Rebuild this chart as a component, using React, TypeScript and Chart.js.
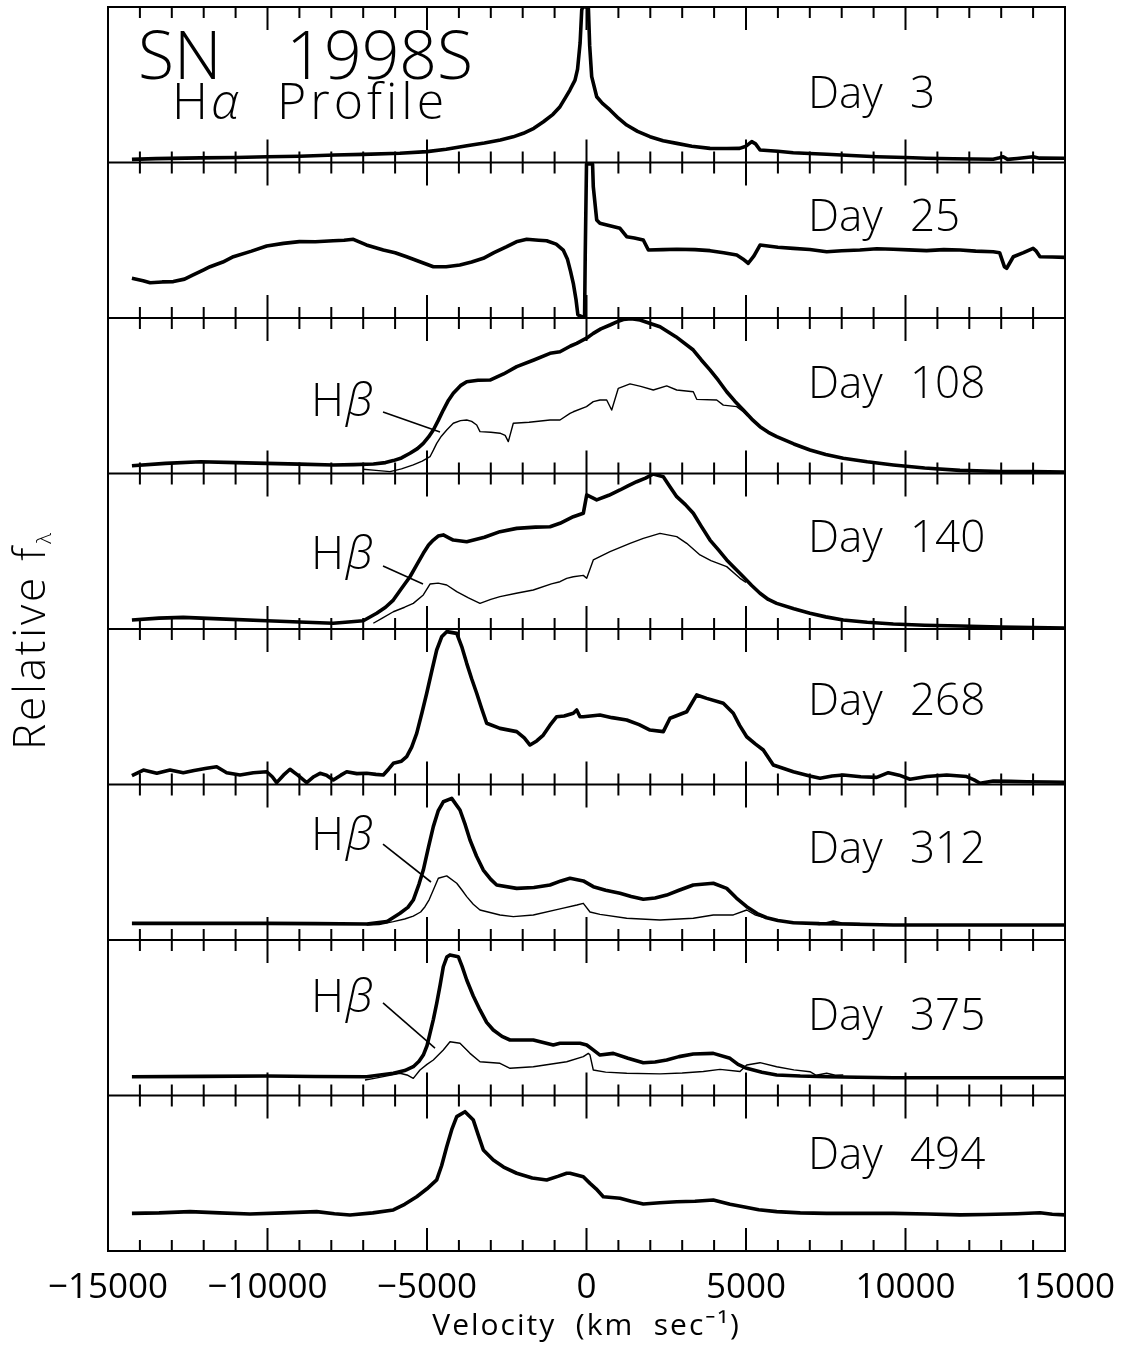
import React, { useEffect, useRef } from 'react';
import { Chart, registerables } from 'chart.js';

Chart.register(...registerables);

// ---------- axis values ----------
const X_MIN = -15000;
const X_MAX = 15000;
const X_MAJOR = 5000;
const X_MINOR = 1000;
const Y_MIN = 0;
const Y_MAX = 1;
const X_TITLE = 'Velocity  (km  sec\u207B\u00B9)';

// ---------- panel labels ----------
const DAYS = ['3', '25', '108', '140', '268', '312', '375', '494'];

// ---------- data: [velocity km/s, relative flux within panel] ----------
const day3Ha: [number, number][] = [
  [-14250, 0.02], [-13500, 0.025], [-12100, 0.03], [-11000, 0.032], [-10000, 0.037], [-9000, 0.04],
  [-7900, 0.048], [-7000, 0.052], [-5850, 0.059], [-5000, 0.07], [-4400, 0.085], [-3750, 0.108],
  [-3200, 0.125], [-2700, 0.145], [-2300, 0.165], [-1980, 0.188], [-1650, 0.22], [-1350, 0.262],
  [-1050, 0.31], [-830, 0.359], [-650, 0.42], [-520, 0.466], [-360, 0.53], [-280, 0.6], [-200, 0.77],
  [-150, 0.98], [-120, 1.0], [0, 1.0], [60, 0.99], [100, 0.75], [163, 0.552], [320, 0.423], [500, 0.38],
  [737, 0.338], [1000, 0.285], [1260, 0.241], [1600, 0.2], [1990, 0.166], [2400, 0.14], [2830, 0.123],
  [3300, 0.105], [3870, 0.091], [4400, 0.09], [4800, 0.091], [5000, 0.105], [5180, 0.134], [5300, 0.12],
  [5440, 0.08], [6000, 0.072], [6480, 0.063], [7000, 0.058], [7530, 0.053], [8300, 0.045], [9100, 0.037],
  [10000, 0.032], [10660, 0.027], [11500, 0.024], [12750, 0.021], [12950, 0.03], [13060, 0.037],
  [13200, 0.02], [13500, 0.026], [14000, 0.037], [14200, 0.028], [15000, 0.027],
];

const day25Ha: [number, number][] = [
  [-14250, 0.255], [-13900, 0.24], [-13680, 0.227], [-13300, 0.232], [-12950, 0.234], [-12600, 0.25],
  [-12330, 0.277], [-12000, 0.31], [-11800, 0.33], [-11400, 0.36], [-11070, 0.394], [-10500, 0.43],
  [-10025, 0.463], [-9500, 0.48], [-9000, 0.491], [-8500, 0.49], [-7940, 0.497], [-7600, 0.5],
  [-7310, 0.506], [-6900, 0.47], [-6370, 0.437], [-6000, 0.42], [-5640, 0.394], [-5200, 0.36],
  [-4800, 0.33], [-4400, 0.33], [-3970, 0.341], [-3600, 0.36], [-3235, 0.384], [-2900, 0.42],
  [-2500, 0.459], [-2200, 0.49], [-1875, 0.506], [-1500, 0.5], [-1250, 0.497], [-950, 0.475],
  [-730, 0.437], [-600, 0.38], [-500, 0.3], [-414, 0.223], [-330, 0.12], [-270, 0.02], [-110, 0.005],
  [-60, 0.01], [-40, 0.4], [0, 0.99], [190, 0.99], [213, 0.844], [320, 0.63], [420, 0.609], [700, 0.595],
  [1050, 0.577], [1260, 0.523], [1500, 0.515], [1780, 0.502], [1940, 0.437], [2400, 0.44], [2830, 0.442],
  [3400, 0.44], [3870, 0.433], [4300, 0.42], [4710, 0.405], [4900, 0.38], [5070, 0.352], [5250, 0.4],
  [5440, 0.469], [6000, 0.455], [6480, 0.448], [7000, 0.44], [7530, 0.426], [8000, 0.432], [8570, 0.437],
  [9100, 0.445], [9620, 0.442], [10100, 0.438], [10660, 0.433], [11200, 0.44], [11710, 0.437],
  [12200, 0.43], [12750, 0.426], [12950, 0.42], [13100, 0.33], [13172, 0.32], [13380, 0.394],
  [13700, 0.42], [14000, 0.448], [14100, 0.43], [14216, 0.394], [14600, 0.392], [15000, 0.39],
];

const day108Ha: [number, number][] = [
  [-14250, 0.05], [-13200, 0.065], [-12100, 0.076], [-11000, 0.07], [-10025, 0.065], [-9000, 0.06],
  [-7940, 0.055], [-7300, 0.057], [-6680, 0.061], [-6300, 0.07], [-6056, 0.083], [-5800, 0.1],
  [-5533, 0.13], [-5300, 0.16], [-5116, 0.194], [-4950, 0.235], [-4802, 0.28], [-4650, 0.34],
  [-4489, 0.408], [-4330, 0.47], [-4176, 0.516], [-3950, 0.565], [-3755, 0.59], [-3400, 0.6],
  [-3025, 0.601], [-2600, 0.64], [-2188, 0.687], [-1650, 0.73], [-1144, 0.773], [-831, 0.783],
  [-500, 0.82], [-307, 0.837], [0, 0.87], [213, 0.901], [450, 0.93], [737, 0.955], [950, 0.975],
  [1154, 0.99], [1400, 0.995], [1677, 0.987], [2000, 0.965], [2304, 0.944], [2800, 0.88], [3348, 0.794],
  [3600, 0.73], [3871, 0.666], [4130, 0.6], [4395, 0.526], [4650, 0.465], [4915, 0.408], [5180, 0.35],
  [5439, 0.301], [5700, 0.265], [5962, 0.237], [6500, 0.19], [7006, 0.151], [7500, 0.122], [8050, 0.098],
  [8800, 0.075], [9618, 0.055], [10600, 0.035], [11708, 0.02], [13000, 0.013], [14000, 0.012], [15000, 0.01],
];

const day108Hb: [number, number][] = [
  [-7000, 0.027], [-6600, 0.02], [-6160, 0.012], [-5800, 0.03], [-5430, 0.055], [-5150, 0.08],
  [-4906, 0.108], [-4800, 0.15], [-4696, 0.194], [-4550, 0.24], [-4382, 0.28], [-4176, 0.323],
  [-3950, 0.34], [-3755, 0.344], [-3600, 0.335], [-3442, 0.312], [-3339, 0.269], [-3000, 0.265],
  [-2712, 0.259], [-2550, 0.245], [-2451, 0.205], [-2295, 0.323], [-1800, 0.33], [-1144, 0.344],
  [-831, 0.344], [-517, 0.387], [-414, 0.397], [0, 0.43], [213, 0.462], [423, 0.473], [633, 0.473],
  [790, 0.408], [997, 0.548], [1364, 0.576], [1700, 0.56], [2094, 0.537], [2514, 0.563], [2828, 0.537],
  [3348, 0.526], [3455, 0.477], [4082, 0.473], [4289, 0.44], [4708, 0.43], [4915, 0.397], [5050, 0.37],
];

const day140Ha: [number, number][] = [
  [-14250, 0.058], [-13400, 0.07], [-12640, 0.075], [-11500, 0.065], [-10025, 0.053], [-9000, 0.045],
  [-7940, 0.037], [-6997, 0.053], [-6577, 0.101], [-6300, 0.14], [-6056, 0.186], [-5800, 0.26],
  [-5533, 0.336], [-5300, 0.42], [-5116, 0.487], [-4950, 0.54], [-4802, 0.572], [-4650, 0.598],
  [-4489, 0.605], [-4300, 0.585], [-4176, 0.572], [-3755, 0.561], [-3200, 0.59], [-2712, 0.626],
  [-2188, 0.647], [-1600, 0.655], [-1144, 0.658], [-831, 0.68], [-414, 0.722], [-100, 0.744], [6, 0.862],
  [320, 0.83], [700, 0.86], [1050, 0.894], [1300, 0.92], [1573, 0.947], [1850, 0.97], [2094, 0.997],
  [2408, 0.979], [2600, 0.92], [2828, 0.851], [3100, 0.8], [3348, 0.744], [3600, 0.66], [3871, 0.572],
  [4130, 0.51], [4395, 0.444], [4650, 0.39], [4915, 0.336], [5180, 0.28], [5439, 0.23], [5700, 0.19],
  [5962, 0.165], [6500, 0.13], [7006, 0.101], [7500, 0.078], [8050, 0.058], [8800, 0.043], [9618, 0.032],
  [10600, 0.024], [11708, 0.019], [13000, 0.012], [15000, 0.006],
];

const day140Hb: [number, number][] = [
  [-6683, 0.037], [-6400, 0.07], [-6056, 0.111], [-5700, 0.14], [-5430, 0.165], [-5116, 0.219],
  [-4906, 0.289], [-4650, 0.295], [-4382, 0.283], [-4068, 0.24], [-3700, 0.2], [-3339, 0.165],
  [-3000, 0.19], [-2712, 0.208], [-2200, 0.23], [-1668, 0.251], [-1100, 0.29], [-831, 0.304],
  [-621, 0.326], [-414, 0.336], [-100, 0.345], [6, 0.326], [213, 0.444], [737, 0.497], [1364, 0.551],
  [1781, 0.583], [2304, 0.615], [2828, 0.594], [3141, 0.551], [3558, 0.476], [3900, 0.44], [4395, 0.401],
  [4812, 0.326], [5000, 0.3],
];

const day268Ha: [number, number][] = [
  [-14250, 0.057], [-13890, 0.093], [-13470, 0.072], [-13056, 0.093], [-12640, 0.076], [-12300, 0.09],
  [-11906, 0.104], [-11593, 0.114], [-11280, 0.076], [-10862, 0.061], [-10444, 0.076], [-10025, 0.082],
  [-9850, 0.05], [-9712, 0.012], [-9500, 0.06], [-9295, 0.098], [-9050, 0.06], [-8771, 0.012],
  [-8550, 0.05], [-8354, 0.072], [-8150, 0.06], [-7937, 0.029], [-7700, 0.06], [-7517, 0.082],
  [-7200, 0.07], [-6890, 0.072], [-6600, 0.065], [-6370, 0.061], [-6200, 0.1], [-6056, 0.136],
  [-5800, 0.15], [-5637, 0.179], [-5480, 0.24], [-5323, 0.329], [-5160, 0.46], [-5009, 0.587],
  [-4850, 0.73], [-4696, 0.865], [-4540, 0.95], [-4382, 0.983], [-4068, 0.972], [-3900, 0.88],
  [-3755, 0.779], [-3600, 0.68], [-3442, 0.587], [-3290, 0.49], [-3129, 0.394], [-2712, 0.361],
  [-2188, 0.34], [-1950, 0.3], [-1771, 0.254], [-1560, 0.28], [-1354, 0.318], [-1150, 0.38],
  [-934, 0.436], [-700, 0.44], [-414, 0.458], [-307, 0.479], [-204, 0.436], [-100, 0.436], [423, 0.447],
  [800, 0.43], [1260, 0.415], [1650, 0.385], [1991, 0.35], [2408, 0.34], [2618, 0.426], [3141, 0.468],
  [3455, 0.576], [3768, 0.554], [4289, 0.522], [4602, 0.458], [4800, 0.38], [5022, 0.307], [5300, 0.26],
  [5542, 0.222], [5856, 0.125], [6484, 0.082], [7000, 0.055], [7320, 0.04], [7700, 0.055], [8050, 0.061],
  [8600, 0.05], [9097, 0.046], [9461, 0.076], [9800, 0.06], [10141, 0.034], [10665, 0.051],
  [11292, 0.061], [11917, 0.051], [12150, 0.03], [12335, 0.008], [12752, 0.022], [13300, 0.02],
  [13798, 0.018], [14500, 0.016], [15000, 0.014],
];

const day312Ha: [number, number][] = [
  [-14250, 0.107], [-12000, 0.107], [-10025, 0.107], [-8500, 0.105], [-6890, 0.103], [-6263, 0.118],
  [-5846, 0.172], [-5600, 0.21], [-5430, 0.257], [-5250, 0.36], [-5116, 0.45], [-4950, 0.6],
  [-4802, 0.729], [-4650, 0.83], [-4489, 0.889], [-4226, 0.911], [-3966, 0.836], [-3800, 0.74],
  [-3652, 0.643], [-3450, 0.54], [-3235, 0.45], [-3000, 0.39], [-2815, 0.354], [-2188, 0.332],
  [-1650, 0.338], [-1144, 0.354], [-800, 0.38], [-517, 0.397], [-100, 0.38], [213, 0.343], [600, 0.32],
  [1050, 0.3], [1400, 0.28], [1781, 0.262], [2150, 0.27], [2514, 0.289], [2900, 0.32], [3348, 0.354],
  [3975, 0.365], [4395, 0.332], [4700, 0.27], [5022, 0.214], [5350, 0.17], [5649, 0.143], [6000, 0.125],
  [6484, 0.111], [7300, 0.105], [8050, 0.103], [9618, 0.096], [12000, 0.096], [15000, 0.096],
];

const day312Hb: [number, number][] = [
  [-6890, 0.096], [-6500, 0.1], [-6056, 0.118], [-5700, 0.135], [-5430, 0.154], [-5200, 0.18],
  [-5063, 0.214], [-4930, 0.26], [-4802, 0.322], [-4645, 0.397], [-4382, 0.412], [-4068, 0.365],
  [-3900, 0.32], [-3755, 0.279], [-3550, 0.23], [-3339, 0.193], [-2712, 0.161], [-2295, 0.15],
  [-1668, 0.161], [-831, 0.2], [-300, 0.225], [-100, 0.236], [110, 0.18], [423, 0.165], [1260, 0.14],
  [2304, 0.129], [3348, 0.14], [3975, 0.161], [4602, 0.161], [5022, 0.193], [5300, 0.16], [5649, 0.14],
  [6200, 0.12], [6800, 0.11], [7300, 0.1], [7737, 0.122], [8000, 0.11], [8574, 0.107],
];

const day375Ha: [number, number][] = [
  [-14250, 0.121], [-12000, 0.123], [-10025, 0.125], [-8500, 0.122], [-6890, 0.121], [-6056, 0.143],
  [-5700, 0.16], [-5430, 0.185], [-5250, 0.22], [-5116, 0.26], [-5000, 0.32], [-4906, 0.4], [-4800, 0.49],
  [-4696, 0.593], [-4589, 0.71], [-4489, 0.828], [-4379, 0.89], [-4279, 0.904], [-4019, 0.893],
  [-3900, 0.83], [-3755, 0.743], [-3550, 0.64], [-3339, 0.55], [-3130, 0.47], [-2922, 0.421],
  [-2650, 0.38], [-2398, 0.357], [-1668, 0.357], [-1041, 0.325], [-831, 0.336], [-414, 0.336],
  [-204, 0.336], [6, 0.325], [200, 0.295], [423, 0.26], [840, 0.271], [1300, 0.24], [1781, 0.211],
  [2150, 0.215], [2514, 0.228], [2900, 0.25], [3348, 0.267], [3975, 0.271], [4498, 0.239], [4750, 0.2],
  [5022, 0.175], [5500, 0.15], [5962, 0.132], [6700, 0.125], [7529, 0.121], [8500, 0.117], [9618, 0.114],
  [12000, 0.114], [15000, 0.114],
];

const day375Hb: [number, number][] = [
  [-6944, 0.1], [-6650, 0.11], [-6370, 0.121], [-5846, 0.143], [-5600, 0.13], [-5430, 0.11],
  [-5220, 0.164], [-5000, 0.2], [-4802, 0.228], [-4489, 0.293], [-4279, 0.346], [-3966, 0.336],
  [-3652, 0.271], [-3339, 0.217], [-2712, 0.207], [-2398, 0.175], [-1668, 0.185], [-621, 0.217],
  [-100, 0.25], [57, 0.271], [110, 0.26], [213, 0.164], [600, 0.15], [1260, 0.143], [2304, 0.139],
  [3000, 0.145], [3660, 0.154], [4185, 0.168], [4812, 0.154], [5022, 0.196], [5439, 0.211],
  [5962, 0.185], [6500, 0.165], [7006, 0.153], [7200, 0.13], [7529, 0.143], [7800, 0.13], [8050, 0.132],
];

const day494Ha: [number, number][] = [
  [-14250, 0.242], [-13400, 0.245], [-12430, 0.253], [-11500, 0.245], [-10550, 0.238], [-9500, 0.245],
  [-8460, 0.253], [-7900, 0.24], [-7414, 0.232], [-6700, 0.245], [-6056, 0.264], [-5700, 0.3],
  [-5323, 0.349], [-5000, 0.4], [-4696, 0.457], [-4540, 0.55], [-4382, 0.671], [-4225, 0.78],
  [-4068, 0.864], [-3809, 0.896], [-3548, 0.842], [-3400, 0.75], [-3235, 0.65], [-2922, 0.585],
  [-2600, 0.54], [-2188, 0.5], [-1700, 0.47], [-1248, 0.457], [-900, 0.48], [-621, 0.5], [-517, 0.5],
  [-100, 0.478], [110, 0.435], [300, 0.4], [527, 0.349], [1050, 0.339], [1400, 0.32], [1781, 0.302],
  [2300, 0.31], [2828, 0.317], [3400, 0.32], [3975, 0.328], [4500, 0.3], [4915, 0.285], [5400, 0.265],
  [5962, 0.253], [6700, 0.245], [7529, 0.242], [8500, 0.242], [9618, 0.242], [10700, 0.238],
  [11708, 0.232], [12500, 0.235], [13500, 0.24], [14216, 0.246], [14600, 0.236], [15000, 0.232],
];

const HALPHA = [day3Ha, day25Ha, day108Ha, day140Ha, day268Ha, day312Ha, day375Ha, day494Ha];
const HBETA: ([number, number][] | null)[] = [null, null, day108Hb, day140Hb, null, day312Hb, day375Hb, null];

// ---------- layout / style (not data) ----------
const FONT = "'Open Sans', 'Noto Sans', 'Liberation Sans', sans-serif";
const DAY_LABEL_Y = [0.35, 0.56, 0.486, 0.495, 0.447, 0.495, 0.421, 0.527];
const DAY_WORD_X = 6944;
const DAY_NUM_X = 10141;
const HB_NOTES = [
  { panel: 2, textY: 0.37, from: [-6379, 0.395], to: [-4592, 0.267] },
  { panel: 3, textY: 0.386, from: [-6379, 0.405], to: [-5125, 0.289] },
  { panel: 5, textY: 0.579, from: [-6379, 0.617], to: [-4875, 0.373] },
  { panel: 6, textY: 0.537, from: [-6379, 0.595], to: [-4749, 0.305] },
];
const HB_H_X = -8636;
const HB_BETA_X = -7539;

const fmtTick = (v: number) => (v < 0 ? '\u2212' + Math.abs(v) : String(v));

const panelPlugin = {
  id: 'snPanels',
  beforeDatasetsDraw(chart: any) {
    const { ctx, chartArea } = chart;
    const xs = chart.scales.x;
    ctx.save();
    ctx.strokeStyle = '#000';
    ctx.lineWidth = 2;
    ctx.strokeRect(chartArea.left, chartArea.top, chartArea.right - chartArea.left, chartArea.bottom - chartArea.top);
    HALPHA.forEach((_, i) => {
      const ys = chart.scales['y' + i];
      const top = ys.getPixelForValue(Y_MAX);
      const bot = ys.getPixelForValue(Y_MIN);
      ctx.beginPath();
      ctx.moveTo(chartArea.left, bot);
      ctx.lineTo(chartArea.right, bot);
      for (let v = X_MIN + X_MINOR; v < X_MAX; v += X_MINOR) {
        const px = xs.getPixelForValue(v);
        const len = v % X_MAJOR === 0 ? 23 : 11;
        ctx.moveTo(px, top);
        ctx.lineTo(px, top + len);
        ctx.moveTo(px, bot);
        ctx.lineTo(px, bot - len);
      }
      ctx.stroke();
    });
    ctx.restore();
  },
  afterDatasetsDraw(chart: any) {
    const { ctx, chartArea } = chart;
    const xs = chart.scales.x;
    ctx.save();
    ctx.fillStyle = '#000';
    ctx.strokeStyle = '#000';
    ctx.textBaseline = 'alphabetic';
    ctx.textAlign = 'left';

    // Day labels
    DAYS.forEach((d, i) => {
      const ys = chart.scales['y' + i];
      const y = ys.getPixelForValue(DAY_LABEL_Y[i]);
      ctx.font = `300 44px ${FONT}`;
      ctx.fillText('Day', xs.getPixelForValue(DAY_WORD_X), y);
      ctx.fillText(d, xs.getPixelForValue(DAY_NUM_X), y);
    });

    // Title in first panel
    const y0 = chart.scales.y0;
    ctx.font = `300 66px ${FONT}`;
    ctx.fillText('SN', xs.getPixelForValue(-14060), y0.getPixelForValue(0.537));
    ctx.textAlign = 'right';
    ctx.fillText('1998S', xs.getPixelForValue(-3558), y0.getPixelForValue(0.537));
    ctx.textAlign = 'left';
    const by = y0.getPixelForValue(0.28);
    ctx.font = `300 50px ${FONT}`;
    ctx.fillText('H', xs.getPixelForValue(-12994), by);
    (ctx as any).letterSpacing = '4px';
    ctx.fillText('Profile', xs.getPixelForValue(-9702), by);
    (ctx as any).letterSpacing = '0px';
    ctx.font = `italic 300 50px ${FONT}`;
    ctx.fillText('\u03B1', xs.getPixelForValue(-11771), by);

    // H-beta annotations
    HB_NOTES.forEach((n) => {
      const ys = chart.scales['y' + n.panel];
      const ty = ys.getPixelForValue(n.textY);
      ctx.font = `300 46px ${FONT}`;
      ctx.fillText('H', xs.getPixelForValue(HB_H_X), ty);
      ctx.font = `italic 300 46px ${FONT}`;
      ctx.fillText('\u03B2', xs.getPixelForValue(HB_BETA_X), ty);
      ctx.lineWidth = 1.6;
      ctx.beginPath();
      ctx.moveTo(xs.getPixelForValue(n.from[0]), ys.getPixelForValue(n.from[1]));
      ctx.lineTo(xs.getPixelForValue(n.to[0]), ys.getPixelForValue(n.to[1]));
      ctx.stroke();
    });

    // X axis title (centred on the x scale)
    ctx.font = `400 30px ${FONT}`;
    (ctx as any).letterSpacing = '2px';
    ctx.textAlign = 'center';
    ctx.fillText(X_TITLE, (xs.left + xs.right) / 2, xs.top + 84);
    (ctx as any).letterSpacing = '0px';
    ctx.textAlign = 'left';

    // Y axis title (rotated) with subscript lambda
    ctx.translate(chartArea.left - 63, chartArea.top + 743);
    ctx.rotate(-Math.PI / 2);
    ctx.font = `300 44px ${FONT}`;
    (ctx as any).letterSpacing = '2.8px';
    ctx.fillText('Relative f', 0, 0);
    const w = ctx.measureText('Relative f').width;
    (ctx as any).letterSpacing = '0px';
    ctx.font = `300 21px ${FONT}`;
    ctx.fillText('\u03BB', w + 1, 6);
    ctx.restore();
  },
};

export default function App() {
  const canvasRef = useRef<HTMLCanvasElement | null>(null);

  useEffect(() => {
    const canvas = canvasRef.current;
    if (!canvas) return;

    const datasets: any[] = [];
    HALPHA.forEach((series, i) => {
      datasets.push({
        data: series.map(([x, y]) => ({ x, y })),
        yAxisID: 'y' + i,
        borderColor: '#000',
        borderWidth: 3.6,
        pointRadius: 0,
        fill: false,
        tension: 0,
      });
    });
    HBETA.forEach((series, i) => {
      if (!series) return;
      datasets.push({
        data: series.map(([x, y]) => ({ x, y })),
        yAxisID: 'y' + i,
        borderColor: '#000',
        borderWidth: 1.4,
        pointRadius: 0,
        fill: false,
        tension: 0,
      });
    });

    const scales: any = {
      x: {
        type: 'linear',
        position: 'bottom',
        min: X_MIN,
        max: X_MAX,
        grid: { display: false, drawTicks: false },
        border: { display: false },
        ticks: {
          stepSize: X_MAJOR,
          padding: 16,
          color: '#000',
          font: { family: FONT, size: 35, weight: '400' },
          callback: (v: any) => fmtTick(Number(v)),
          maxRotation: 0,
          autoSkip: false,
        },
        title: { display: false },
        afterFit: (s: any) => {
          s.height = 101;
          s.paddingLeft = 0;
          s.paddingRight = 0;
        },
      },
    };
    HALPHA.forEach((_, i) => {
      scales['y' + i] = {
        type: 'linear',
        position: 'left',
        stack: 'panels',
        stackWeight: 1,
        weight: HALPHA.length - i,
        min: Y_MIN,
        max: Y_MAX,
        display: false,
      };
    });

    const chart = new Chart(canvas, {
      type: 'line',
      data: { datasets },
      options: {
        animation: false,
        responsive: false,
        devicePixelRatio: 1,
        events: [],
        layout: { padding: { left: 108, right: 59, top: 7, bottom: 0 } },
        plugins: {
          legend: { display: false },
          tooltip: { enabled: false },
          title: { display: false },
        },
        elements: { point: { radius: 0 }, line: { borderJoinStyle: 'round' } },
        scales,
      },
      plugins: [panelPlugin],
    } as any);

    return () => chart.destroy();
  }, []);

  return (
    <div style={{ position: 'fixed', left: 0, top: 0, width: 1124, height: 1352, background: '#fff' }}>
      <canvas ref={canvasRef} width={1124} height={1352} style={{ display: 'block', width: 1124, height: 1352 }} />
    </div>
  );
}
